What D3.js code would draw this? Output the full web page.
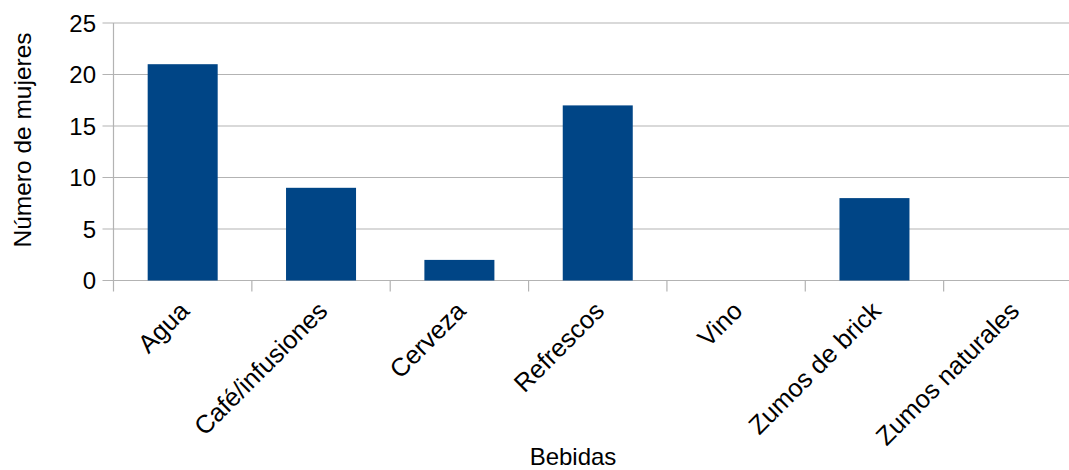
<!DOCTYPE html>
<html><head><meta charset="utf-8">
<script src="https://cdn.jsdelivr.net/npm/d3@7"></script>
<style>body{margin:0;background:#fff}svg{display:block;font-family:"Liberation Sans",Arial,sans-serif}</style>
</head><body><svg id="c" width="1069" height="470"></svg>
<script>
const categories = ["Agua","Café/infusiones","Cerveza","Refrescos","Vino","Zumos de brick","Zumos naturales"];
const values = [21, 9, 2, 17, 0, 8, 0];
const yTicks = [0, 5, 10, 15, 20, 25];
const xTitle = "Bebidas";
const yTitle = "Número de mujeres";

(function () {
const svg = d3.select("#c");
const mLeft = 113.5, mRight = 1082, mTop = 23, mBottom = 280.5;
const x = d3.scaleBand().domain(categories).range([mLeft, mRight]);
const y = d3.scaleLinear().domain([0, 25]).range([mBottom, mTop]);
const grid = "#b3b3b3";

// gridlines
svg.append("g").selectAll("line").data(yTicks).join("line")
  .attr("x1", mLeft - 11).attr("x2", mRight)
  .attr("y1", d => y(d)).attr("y2", d => y(d))
  .attr("stroke", grid).attr("stroke-width", 1.2);
// left axis line
svg.append("line").attr("x1", mLeft).attr("x2", mLeft).attr("y1", mTop).attr("y2", mBottom + 11)
  .attr("stroke", grid).attr("stroke-width", 1.2);
// x ticks at band boundaries
svg.append("g").selectAll("line").data(categories).join("line")
  .attr("x1", d => x(d) + x.step()).attr("x2", d => x(d) + x.step())
  .attr("y1", mBottom).attr("y2", mBottom + 11)
  .attr("stroke", grid).attr("stroke-width", 1.2);

// bars
const bw = x.bandwidth() * 0.506;
svg.append("g").selectAll("rect").data(categories).join("rect")
  .attr("x", d => x(d) + x.bandwidth() / 2 - bw / 2)
  .attr("width", bw)
  .attr("y", (d, i) => y(values[i]))
  .attr("height", (d, i) => y(0) - y(values[i]))
  .attr("fill", "#004586");

// y tick labels
svg.append("g").selectAll("text").data(yTicks).join("text")
  .attr("x", 96).attr("y", d => y(d)).attr("dy", "0.36em")
  .attr("text-anchor", "end").attr("font-size", 24).attr("fill", "#000")
  .text(d => d);

// x tick labels
svg.append("g").selectAll("text").data(categories).join("text")
  .attr("transform", d => `translate(${x(d) + x.bandwidth() / 2 + 8},${mBottom + 32}) rotate(-45)`)
  .attr("text-anchor", "end").attr("font-size", 25.5).attr("fill", "#000")
  .text(d => d);

// axis titles
svg.append("text").attr("x", 573).attr("y", 465).attr("text-anchor", "middle")
  .attr("font-size", 24).attr("fill", "#000").text(xTitle);
svg.append("text").attr("transform", "translate(31,140) rotate(-90)").attr("text-anchor", "middle")
  .attr("font-size", 24.5).attr("fill", "#000").text(yTitle);
})();
</script></body></html>
